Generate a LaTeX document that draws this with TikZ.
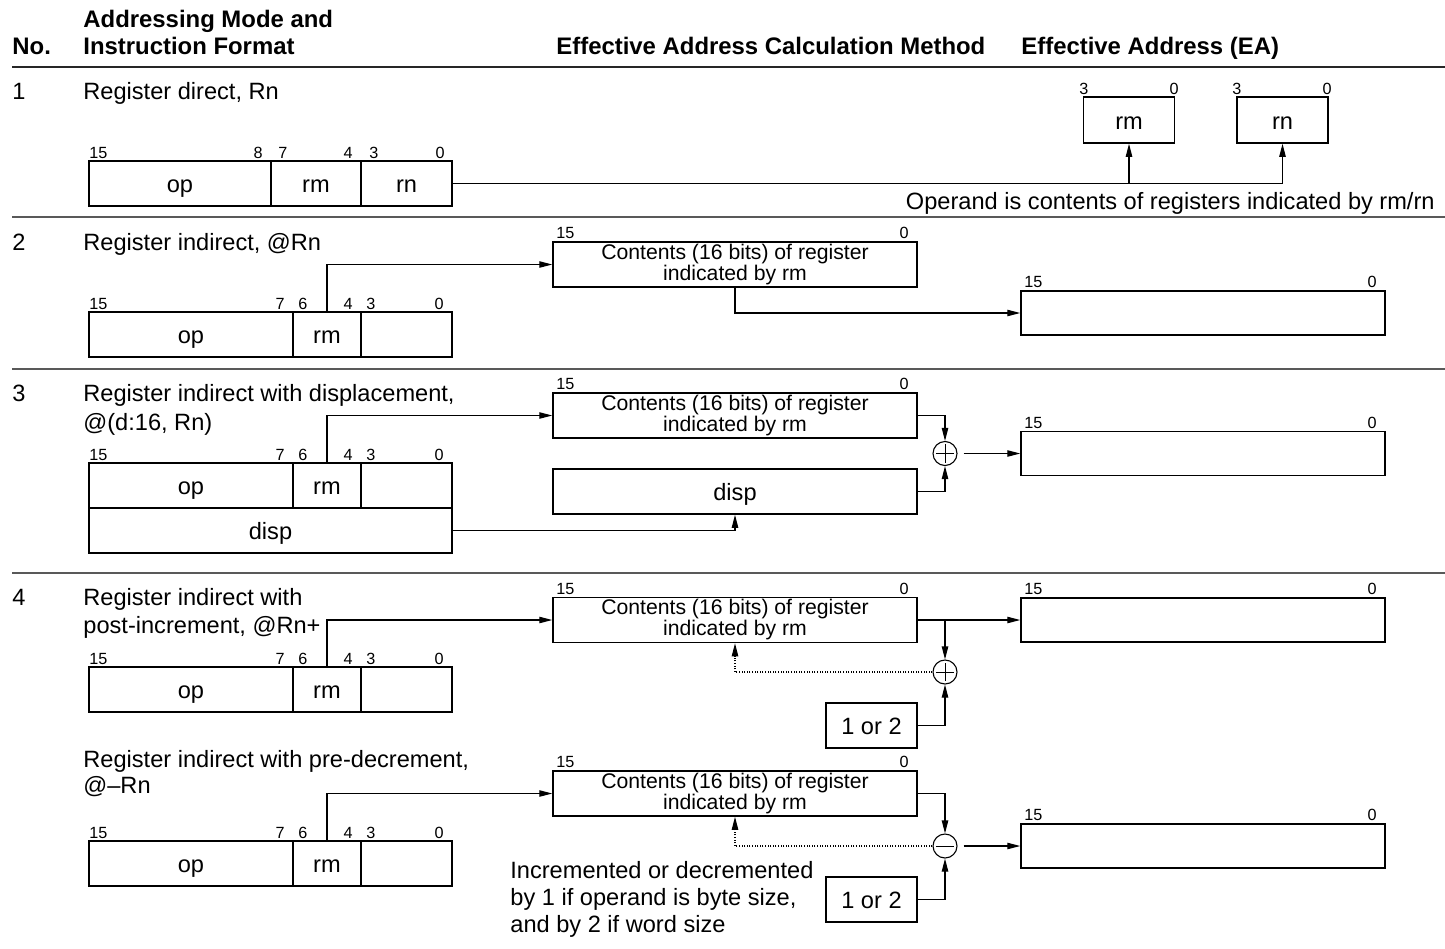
\documentclass[tikz,border=0pt]{standalone}
\usepackage{fontspec}
\setmainfont{Liberation Sans}
\usetikzlibrary{arrows.meta}

\tikzset{
  basefont/.style={font=\fontsize{11.8}{13}\selectfont},
  fld/.style={draw, line width=0.75pt, rectangle, inner sep=0pt, minimum height=22.5pt,
              text height=9pt, text depth=0pt, basefont},
  regbox/.style={draw, line width=0.75pt, rectangle, inner sep=0pt, minimum width=182pt,
              minimum height=22.5pt, align=center, font=\fontsize{10.6}{10.5}\selectfont},
  eabox/.style={draw, line width=0.75pt, rectangle, inner sep=0pt, minimum width=182pt,
              minimum height=22pt},
  txt/.style={inner sep=0pt, basefont},
  hdr/.style={inner sep=0pt, font=\fontsize{11.95}{13}\selectfont\bfseries},
  bitlbl/.style={inner sep=0pt, font=\fontsize{8.1}{9}\selectfont},
  conn/.style={line width=0.55pt},
  arr/.style={conn, -{Triangle[length=6.5pt,width=3.2pt]}},
  dotarr/.style={arr, dash pattern=on 0.5pt off 0.8pt},
  sepline/.style={line width=0.8pt, black!65},
  adder/.style={circle, draw, line width=0.55pt, minimum size=12pt, inner sep=0pt},
  plusadd/.style={adder, path picture={\draw[line width=0.5pt]
      ([xshift=-4.6pt]path picture bounding box.center) -- ([xshift=4.6pt]path picture bounding box.center)
      ([yshift=-4.6pt]path picture bounding box.center) -- ([yshift=4.6pt]path picture bounding box.center);}},
  minusadd/.style={adder, path picture={\draw[line width=0.5pt]
      ([xshift=-4.6pt]path picture bounding box.center) -- ([xshift=4.6pt]path picture bounding box.center);}},
}

% bit numbers over a 16-bit instruction with fields 15-7 | 6-4 | 3-0
\newcommand\fieldbits[2]{%
  \node[bitlbl, anchor=base west] (#1a) at (89,#2) {15};
  \node[bitlbl, anchor=base east] (#1b) at (285,#2) {7};
  \node[bitlbl, anchor=base west] (#1c) at (298,#2) {6};
  \node[bitlbl, anchor=base east] (#1d) at (353,#2) {4};
  \node[bitlbl, anchor=base west] (#1e) at (366,#2) {3};
  \node[bitlbl, anchor=base east] (#1f) at (444,#2) {0};}
% "15 ... 0" over a 16-bit register box: prefix, left x, right x, baseline
\newcommand\regbits[4]{%
  \node[bitlbl, anchor=base west] (#1l) at (#2+3,#4) {15};
  \node[bitlbl, anchor=base east] (#1r) at (#3-8,#4) {0};}

\begin{document}
\begin{tikzpicture}[x=0.5pt,y=-0.5pt]
\useasboundingbox (0,0) rectangle (1445,948);

% ---------------- header ----------------
\node[hdr, anchor=base west] (hno)    at (12,54)   {No.};
\node[hdr, anchor=base west] (hmodeA) at (83,27)   {Addressing Mode and};
\node[hdr, anchor=base west] (hmodeB) at (83,54)   {Instruction Format};
\node[hdr, anchor=base west] (hcalc)  at (556,54)  {Effective Address Calculation Method};
\node[hdr, anchor=base west] (hea)    at (1021,54) {Effective Address (EA)};
\draw[line width=0.9pt, black!85] (12,67) -- (1445,67);

% ---------------- row 1 ----------------
\node[txt, anchor=base west] (num1) at (12,99) {1};
\node[txt, anchor=base west] (tit1) at (83,99) {Register direct, Rn};
\node[bitlbl, anchor=base west] (b1a) at (89,158)  {15};
\node[bitlbl, anchor=base east] (b1b) at (263,158) {8};
\node[bitlbl, anchor=base west] (b1c) at (278,158) {7};
\node[bitlbl, anchor=base east] (b1d) at (353,158) {4};
\node[bitlbl, anchor=base west] (b1e) at (369,158) {3};
\node[bitlbl, anchor=base east] (b1f) at (445,158) {0};
\node[fld, minimum width=91pt]   (op1) at (180,183.5)   {op};
\node[fld, minimum width=45pt]   (rm1) at (316,183.5)   {rm};
\node[fld, minimum width=45.5pt] (rn1) at (406.5,183.5) {rn};

\node[fld, minimum width=45.5pt, minimum height=23pt] (rmreg) at (1129,120)   {rm};
\node[fld, minimum width=45.5pt, minimum height=23pt] (rnreg) at (1282.5,120) {rn};
\node[bitlbl, anchor=base west] (r1a) at (1079,94) {3};
\node[bitlbl, anchor=base east] (r1b) at (1179,94) {0};
\node[bitlbl, anchor=base west] (r1c) at (1232,94) {3};
\node[bitlbl, anchor=base east] (r1d) at (1332,94) {0};

\draw[arr] (rn1.east) -| (rnreg.south);
\draw[arr] (rmreg.south |- rn1.east) -- (rmreg.south);
\node[txt, anchor=base east] (oper1) at (1435,209) {Operand is contents of registers indicated by rm/rn};

\draw[sepline] (12,217) -- (1445,217);

% ---------------- row 2 ----------------
\node[txt, anchor=base west] (num2) at (12,250) {2};
\node[txt, anchor=base west] (tit2) at (83,250) {Register indirect, @Rn};
\fieldbits{b2}{309}
\node[fld, minimum width=102pt]  (op2) at (191,334.5)   {op};
\node[fld, minimum width=34pt]   (rm2) at (327,334.5)   {rm};
\node[fld, minimum width=45.5pt] (bl2) at (406.5,334.5) {};

\node[regbox] (cont2) at (735,264.5) {Contents (16 bits) of register\\indicated by rm};
\regbits{c2}{553}{917}{238.5}
\node[eabox] (ea2) at (1203,313) {};
\regbits{e2}{1021}{1385}{287.5}

\draw[arr] (rm2.north) |- (cont2.west);
\draw[arr] (cont2.south) |- (ea2.west);

\draw[sepline] (12,369) -- (1445,369);

% ---------------- row 3 ----------------
\node[txt, anchor=base west] (num3) at (12,401) {3};
\node[txt, anchor=base west] (tit3a) at (83,401) {Register indirect with displacement,};
\node[txt, anchor=base west] (tit3b) at (83,430) {@(d:16, Rn)};
\fieldbits{b3}{460}
\node[fld, minimum width=102pt]  (op3) at (191,485.5)   {op};
\node[fld, minimum width=34pt]   (rm3) at (327,485.5)   {rm};
\node[fld, minimum width=45.5pt] (bl3) at (406.5,485.5) {};
\node[fld, minimum width=181.5pt] (disp3) at (270.5,530.5) {disp};

\node[regbox] (cont3) at (735,415.5) {Contents (16 bits) of register\\indicated by rm};
\regbits{c3}{553}{917}{389.5}
\node[fld, minimum width=182pt] (dbox3) at (735,491.5) {disp};
\node[plusadd] (add3) at (945,453.5) {};
\node[eabox] (ea3) at (1203,453.5) {};
\regbits{e3}{1021}{1385}{428}

\draw[arr] (rm3.north) |- (cont3.west);
\draw[arr] (disp3.east) -| (dbox3.south);
\draw[arr] (cont3.east) -| (add3.north);
\draw[arr] (dbox3.east) -| (add3.south);
\draw[arr, shorten <=3pt] (add3.east) -- (ea3.west);

\draw[sepline] (12,573) -- (1445,573);

% ---------------- row 4 ----------------
\node[txt, anchor=base west] (num4) at (12,605) {4};
\node[txt, anchor=base west] (tit4a) at (83,605) {Register indirect with};
\node[txt, anchor=base west] (tit4b) at (83,633) {post-increment, @Rn+};
\fieldbits{b4}{664}
\node[fld, minimum width=102pt]  (op4) at (191,689.5)   {op};
\node[fld, minimum width=34pt]   (rm4) at (327,689.5)   {rm};
\node[fld, minimum width=45.5pt] (bl4) at (406.5,689.5) {};

\node[regbox] (cont4) at (735,620) {Contents (16 bits) of register\\indicated by rm};
\regbits{c4}{553}{917}{594}
\node[eabox] (ea4) at (1203,620) {};
\regbits{e4}{1021}{1385}{594.5}
\node[plusadd] (add4) at (945,672) {};
\node[fld, minimum width=45.5pt] (one4) at (871.5,725.5) {1 or 2};

\draw[arr] (rm4.north) |- (cont4.west);
\draw[arr] (cont4.east) -- (ea4.west);
\draw[arr] (add4.north |- cont4.east) -- (add4.north);
\draw[dotarr] (add4.west) -| (cont4.south);
\draw[arr] (one4.east) -| (add4.south);

% ---------------- row 4 (pre-decrement) ----------------
\node[txt, anchor=base west] (tit5a) at (83,767) {Register indirect with pre-decrement,};
\node[txt, anchor=base west] (tit5b) at (83,793) {@–Rn};
\fieldbits{b5}{838}
\node[fld, minimum width=102pt]  (op5) at (191,863.5)   {op};
\node[fld, minimum width=34pt]   (rm5) at (327,863.5)   {rm};
\node[fld, minimum width=45.5pt] (bl5) at (406.5,863.5) {};

\node[regbox] (cont5) at (735,793.5) {Contents (16 bits) of register\\indicated by rm};
\regbits{c5}{553}{917}{767.5}
\node[minusadd] (sub5) at (945,846) {};
\node[eabox] (ea5) at (1203,846) {};
\regbits{e5}{1021}{1385}{820.5}
\node[fld, minimum width=45.5pt] (one5) at (871.5,899.5) {1 or 2};

\node[txt, anchor=base west] (note1) at (510,878) {Incremented or decremented};
\node[txt, anchor=base west] (note2) at (510,905) {by 1 if operand is byte size,};
\node[txt, anchor=base west] (note3) at (510,932) {and by 2 if word size};

\draw[arr] (rm5.north) |- (cont5.west);
\draw[arr] (cont5.east) -| (sub5.north);
\draw[dotarr] (sub5.west) -| (cont5.south);
\draw[arr] (one5.east) -| (sub5.south);
\draw[arr, shorten <=3pt] (sub5.east) -- (ea5.west);
\end{tikzpicture}
\end{document}
